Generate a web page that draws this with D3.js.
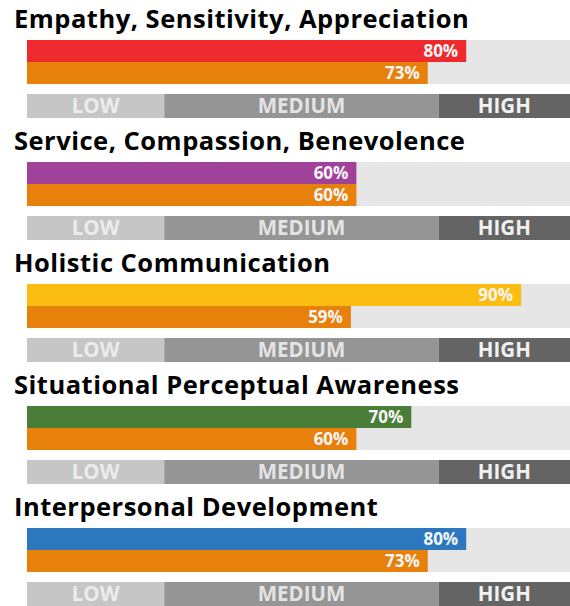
<!DOCTYPE html>
<html>
<head>
<meta charset="utf-8">
<script src="https://cdn.jsdelivr.net/npm/d3@7"></script>
<style>
    body { margin: 0; background: #fff; }
    svg { display: block; }
</style>
</head>
<body>
<svg width="570" height="606"></svg>
<script>
    // chart data
    let titles = ["Empathy, Sensitivity, Appreciation", "Service, Compassion, Benevolence",
        "Holistic Communication", "Situational Perceptual Awareness", "Interpersonal Development"];
    let topValues = [80, 60, 90, 70, 80];
    let bottomValues = [73, 60, 59, 60, 73];
    let topColors = ["#ee2a2e", "#a0429a", "#fcbd12", "#4a7e38", "#2b78bf"];
    let bottomColor = "#e8800c";
    let bandLabels = ["LOW", "MEDIUM", "HIGH"];
    let bandBreaks = [0, 25, 75, 100];
    let bandColors = ["#c6c6c6", "#959596", "#646464"];
    let bandTextColors = ["#ececec", "#e4e4e4", "#f0f0f0"];

    let svg = d3.select("svg"),
        width = +svg.attr("width");

    let font = "'Open Sans', 'Liberation Sans', sans-serif";

    let x = d3.scaleLinear().domain([0, 100]).range([27, 576]);

    let panelHeight = 122;
    let barH = 22;

    let panel = svg.selectAll("g.panel")
        .data(titles)
        .enter().append("g")
        .attr("class", "panel")
        .attr("transform", function (d, i) { return "translate(0," + (i * panelHeight) + ")"; });

    // title
    panel.append("text")
        .attr("x", 14)
        .attr("y", 28)
        .attr("font-family", font)
        .attr("font-weight", "bold")
        .attr("font-size", 25.5)
        .attr("letter-spacing", 0.5)
        .attr("fill", "#000")
        .text(function (d) { return d; });

    // background track
    panel.append("rect")
        .attr("x", x(0))
        .attr("y", 40)
        .attr("width", width - x(0))
        .attr("height", barH * 2)
        .attr("fill", "#e6e6e6");

    function drawBar(values, y, colorFn) {
        panel.append("rect")
            .attr("x", x(0))
            .attr("y", y)
            .attr("width", function (d, i) { return x(values[i]) - x(0); })
            .attr("height", barH)
            .attr("fill", colorFn);

        panel.append("text")
            .attr("x", function (d, i) { return x(values[i]) - 8; })
            .attr("y", y + barH / 2)
            .attr("dy", "0.36em")
            .attr("text-anchor", "end")
            .attr("font-family", font)
            .attr("font-weight", "bold")
            .attr("font-size", 17)
            .attr("fill", "#f6f6f6")
            .text(function (d, i) { return values[i] + "%"; });
    }

    drawBar(topValues, 40, function (d, i) { return topColors[i]; });
    drawBar(bottomValues, 40 + barH, function () { return bottomColor; });

    // low / medium / high band
    let band = panel.append("g")
        .attr("transform", "translate(0,94)");

    bandLabels.forEach(function (label, j) {
        let x0 = x(bandBreaks[j]), x1 = Math.min(x(bandBreaks[j + 1]), width);
        band.append("rect")
            .attr("x", x0)
            .attr("y", 0)
            .attr("width", x1 - x0)
            .attr("height", 24)
            .attr("fill", bandColors[j]);
        band.append("text")
            .attr("x", (x0 + x1) / 2)
            .attr("y", 12)
            .attr("dy", "0.36em")
            .attr("text-anchor", "middle")
            .attr("font-family", font)
            .attr("font-weight", "bold")
            .attr("font-size", 20.5)
            .attr("fill", bandTextColors[j])
            .text(label);
    });
</script>
</body>
</html>
